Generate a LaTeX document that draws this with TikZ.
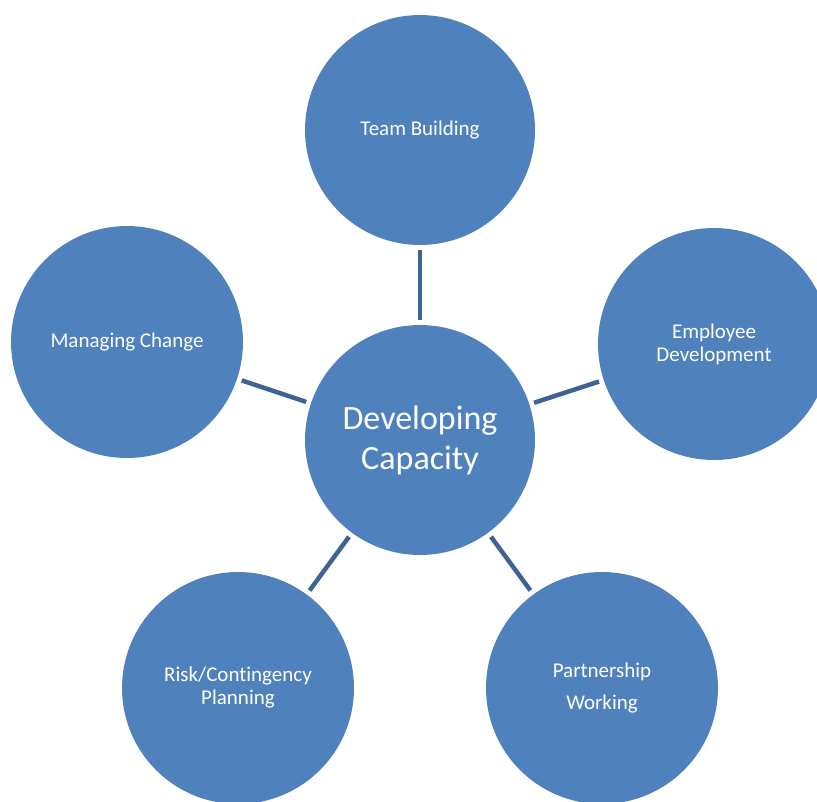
\documentclass[tikz,border=0pt]{standalone}
\usepackage{fontspec}
\setmainfont[Ligatures=NoCommon]{Carlito}
\usetikzlibrary{calc}
\definecolor{bubblefill}{RGB}{79,129,189}
\definecolor{linkline}{RGB}{62,100,150}

\begin{document}
\begin{tikzpicture}[x=1pt, y=-1pt,
	bubble/.style={circle, fill=bubblefill, minimum size=232pt, inner sep=0pt, outer sep=0pt, text=white, align=center, font=\fontsize{21}{23}\selectfont},
	link/.style={draw=linkline, line width=4.5pt, shorten <=5pt, shorten >=5pt}]
	\useasboundingbox (0,0) rectangle (817,801);
	\clip (0,0) rectangle (817,801);

	\node[bubble, minimum size=230pt, font=\fontsize{34}{40}\selectfont] (dev) at (420,440) {Developing\\Capacity};

	\node[bubble, minimum size=230pt] (team) at (420,130) {Team Building};
	\node[bubble] (empl) at (714,344) {Employee\\Development};
	\node[bubble] (change) at (127,342) {Managing Change};
	\node[bubble] (risk) at (238,688) {Risk/Contingency\\Planning};
	\node[bubble] (partner) at (602,688) {Partnership\\[9pt]Working};

	\foreach \n in {team, empl, partner, risk, change}
		\draw[link] (dev) -- (\n);
\end{tikzpicture}
\end{document}
